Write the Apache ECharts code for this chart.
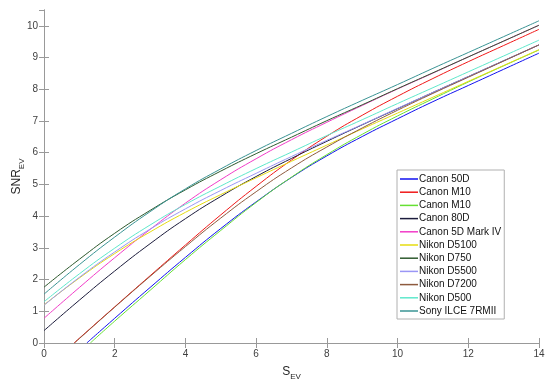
<!DOCTYPE html>
<html><head><meta charset="utf-8">
<script src="https://cdn.jsdelivr.net/npm/echarts/dist/echarts.min.js"></script>
<style>html,body{margin:0;padding:0;background:#fff}#c{width:550px;height:385px}</style>
</head><body><div id="c"></div>
<script>
// S_EV sample positions
const sEV = [0,1,2,3,4,5,6,7,8,9,10,11,12,13,14];

// Series values (SNR_EV)
const canon50dX  = [1.21,2,3,4,5,6,7,8,9,10,11,12,13,14];
const canon50dY  = [0,0.78,1.75,2.70,3.61,4.45,5.22,5.90,6.51,7.07,7.61,8.12,8.63,9.14];
const canonM10rX = [0.85,1,2,3,4,5,6,7,8,9,10,11,12,13,14];
const canonM10rY = [0,0.15,1.14,2.12,3.09,4.04,4.94,5.77,6.52,7.18,7.78,8.34,8.87,9.38,9.89];
const canonM10gX = [1.31,2,3,4,5,6,7,8,9,10,11,12,13,14];
const canonM10gY = [0,0.69,1.66,2.63,3.55,4.43,5.23,5.94,6.58,7.16,7.70,8.23,8.74,9.24];
const canon80dY  = [0.39,1.35,2.27,3.13,3.92,4.62,5.25,5.82,6.36,6.88,7.39,7.90,8.40,8.90,9.40];
const canon5dY   = [0.78,1.75,2.69,3.58,4.41,5.15,5.81,6.41,6.96,7.49,8.01,8.51,9.02,9.52,10.02];
const nikonD5100Y= [1.20,2.05,2.82,3.50,4.12,4.68,5.21,5.73,6.24,6.75,7.25,7.75,8.25,8.75,9.25];
const nikonD750Y = [1.76,2.64,3.46,4.18,4.83,5.42,5.97,6.49,7.01,7.51,8.02,8.52,9.02,9.52,10.02];
const nikonD5500Y= [1.19,2.07,2.87,3.59,4.23,4.81,5.35,5.88,6.39,6.89,7.40,7.90,8.40,8.90,9.40];
const nikonD7200X= [0.86,1,2,3,4,5,6,7,8,9,10,11,12,13,14];
const nikonD7200Y= [0,0.14,1.13,2.10,3.04,3.94,4.77,5.52,6.18,6.78,7.34,7.87,8.38,8.89,9.40];
const nikonD500Y = [1.30,2.18,2.99,3.72,4.37,4.95,5.50,6.02,6.54,7.04,7.55,8.05,8.55,9.05,9.55];
const sonyY      = [1.54,2.47,3.34,4.14,4.86,5.49,6.07,6.61,7.14,7.65,8.15,8.66,9.16,9.66,10.16];

const names = ['Canon 50D','Canon M10','Canon M10 ','Canon 80D','Canon 5D Mark IV','Nikon D5100',
               'Nikon D750','Nikon D5500','Nikon D7200','Nikon D500','Sony ILCE 7RMII'];
const colors = ['#1010F0','#F01818','#66E033','#1C1C3C','#F23CC8','#E6DC10',
                '#2E5A2E','#9A96F5','#8E5A3E','#5FE8CC','#3A9494'];
const xsList = [canon50dX, canonM10rX, canonM10gX, sEV, sEV, sEV, sEV, sEV, nikonD7200X, sEV, sEV];
const ysList = [canon50dY, canonM10rY, canonM10gY, canon80dY, canon5dY, nikonD5100Y,
                nikonD750Y, nikonD5500Y, nikonD7200Y, nikonD500Y, sonyY];

const FONT = 'Liberation Sans, Arial, sans-serif';
const AX = '#999999';
const TXT = '#404040';

const series = names.map((n, i) => ({
  name: n, type: 'line', smooth: true, symbol: 'none', xAxisIndex: 0, yAxisIndex: 0,
  lineStyle: { width: 1, color: colors[i] }, itemStyle: { color: colors[i] },
  data: xsList[i].map((x, k) => [x, ysList[i][k]])
}));

const tickStyle = { inside: true, length: 5, lineStyle: { color: AX, width: 1 } };
const richName = {
  m: { fontSize: 12, color: '#262626', fontFamily: FONT, verticalAlign: 'top', lineHeight: 13 },
  s: { fontSize: 8, color: '#262626', fontFamily: FONT, verticalAlign: 'top', lineHeight: 8, padding: [7,0,0,0] }
};
const chart = echarts.init(document.getElementById('c'), null, { renderer: 'canvas' });
chart.setOption({
  animation: false,
  backgroundColor: '#fff',
  grid: { left: 44, right: 11, top: 10, bottom: 42, containLabel: false, outerBoundsMode: 'none' },
  xAxis: [
    { type: 'value', min: 0, max: 14, interval: 2, position: 'bottom',
      axisLine: { lineStyle: { color: AX, width: 1 } }, axisTick: tickStyle,
      axisLabel: { color: TXT, fontSize: 10, margin: 6, fontFamily: FONT },
      splitLine: { show: false },
      name: '{m|S}{s|EV}', nameLocation: 'middle', nameGap: 23, nameMoveOverlap: false,
      nameTextStyle: { fontFamily: FONT, rich: richName } },
    { type: 'value', min: 0, max: 14, interval: 2, position: 'top',
      axisLine: { lineStyle: { color: AX, width: 1 } }, axisTick: tickStyle,
      axisLabel: { show: false }, splitLine: { show: false } }
  ],
  yAxis: [
    { type: 'value', min: 0, max: 10.5, interval: 1, position: 'left',
      axisLine: { show: true, lineStyle: { color: AX, width: 1 } }, axisTick: Object.assign({ show: true }, tickStyle),
      axisLabel: { color: TXT, fontSize: 10, margin: 6, fontFamily: FONT, showMaxLabel: false },
      splitLine: { show: false },
      name: '{m|SNR}{s|EV}', nameLocation: 'middle', nameGap: 20, nameMoveOverlap: false,
      nameTextStyle: { fontFamily: FONT, rich: richName } },
    { type: 'value', min: 0, max: 10.5, interval: 1, position: 'right',
      axisLine: { show: true, lineStyle: { color: AX, width: 1 } }, axisTick: Object.assign({ show: true }, tickStyle),
      axisLabel: { show: false }, splitLine: { show: false } }
  ],
  legend: {
    orient: 'vertical', left: 397, top: 170, icon: 'rect',
    padding: [3, 3, 2, 3], itemGap: 1.2, itemWidth: 18, itemHeight: 1.5,
    backgroundColor: '#fff', borderColor: '#b0b0b0', borderWidth: 1,
    textStyle: { fontSize: 10, color: '#111', fontFamily: FONT, lineHeight: 12, padding: [0, 0, 0, -4] },
    data: names
  },
  series: series
});
</script></body></html>
